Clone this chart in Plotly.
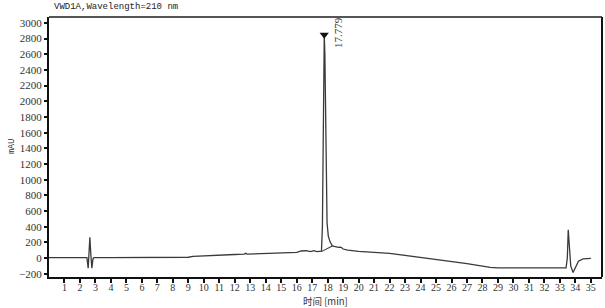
import plotly.graph_objects as go

# ---- data ----
time_min = [0, 1, 2, 2.45, 2.53, 2.58, 2.64, 2.70, 2.77, 2.84, 2.9, 4, 6, 8, 9.0, 9.3, 9.8,
            11, 12, 12.6, 12.7, 12.8, 14, 15.5, 15.8, 16.0, 16.3, 16.6, 16.9, 17.1, 17.3,
            17.5, 17.6, 17.66, 17.70, 17.74, 17.78, 17.82, 17.86, 17.90, 17.96, 18.04,
            18.15, 18.3, 18.5, 18.7, 18.85, 19.0, 19.3, 19.8, 20, 22, 24, 26, 27, 28.5,
            29, 33.4, 33.48, 33.54, 33.62, 33.7, 33.85, 34.0, 34.2, 34.5, 35]
signal_mau = [5, 5, 6, 6, -130, 50, 265, 50, -130, -10, 5, 5, 6, 8, 10, 22, 28,
              38, 45, 50, 60, 50, 60, 70, 78, 72, 90, 95, 82, 95, 82,
              92, 88, 400, 1500, 2500, 2850, 2600, 1800, 900, 450, 280,
              210, 155, 145, 135, 140, 115, 100, 88, 85, 60, 10, -40, -70, -120,
              -125, -125, 0, 360, 100, -100, -185, -120, -40, -10, -5]

baseline_time = [17.62, 18.3]
baseline_mau = [85, 155]

peak_rt = 17.779
peak_label = "17.779"

y_ticks = list(range(-200, 3001, 200))
x_ticks = list(range(1, 36))

title_text = "VWD1A,Wavelength=210 nm"
x_title = "时间 [min]"
y_title = "mAU"

line_color = "#3a3a3a"
serif = "Liberation Serif, Times New Roman, serif"

fig = go.Figure()
fig.add_trace(go.Scatter(x=time_min, y=signal_mau, mode="lines",
                         line=dict(color=line_color, width=1.3), hoverinfo="skip"))
fig.add_trace(go.Scatter(x=baseline_time, y=baseline_mau, mode="lines",
                         line=dict(color=line_color, width=1.1), hoverinfo="skip"))

apex = max(signal_mau)
fig.add_trace(go.Scatter(x=[peak_rt], y=[apex], mode="markers",
                         marker=dict(symbol="triangle-down", size=8, color="#111"),
                         hoverinfo="skip"))

fig.add_annotation(x=peak_rt, y=apex, xref="x", yref="y", text=peak_label,
                   textangle=-90, showarrow=False, xanchor="center", yanchor="middle",
                   xshift=13, yshift=2,
                   font=dict(family=serif, size=11, color="#333"))

fig.add_annotation(x=0, y=1, xref="paper", yref="paper", text=title_text,
                   showarrow=False, xanchor="left", yanchor="bottom",
                   xshift=3, yshift=3,
                   font=dict(family="Liberation Mono", size=9, color="#222"))

# axis titles as annotations
fig.add_annotation(x=0.5, y=0, xref="paper", yref="paper", text=x_title,
                   showarrow=False, xanchor="center", yanchor="middle", yshift=-24,
                   borderpad=0,
                   font=dict(family="Noto Sans CJK SC", size=9.5, color="#333"))
fig.add_annotation(x=0, y=0.5, xref="paper", yref="paper", text=y_title,
                   showarrow=False, xanchor="center", yanchor="middle", xshift=-37,
                   textangle=-90,
                   font=dict(family="Liberation Mono", size=8.5, color="#333"))

# top border (grey)
fig.add_shape(type="line", xref="paper", yref="paper", x0=0, x1=1, y0=1, y1=1,
              line=dict(color="#555", width=2))

fig.update_layout(
    width=605, height=308,
    margin=dict(l=49, r=3, t=17, b=31),
    plot_bgcolor="white", paper_bgcolor="white",
    showlegend=False,
    xaxis=dict(range=[0, 35.72], tickvals=x_ticks, ticks="outside", ticklen=4,
               tickwidth=1.5, tickcolor="#111", showline=True, linewidth=2,
               linecolor="#111", mirror=False, showgrid=False, zeroline=False,
               automargin=False, ticklabelstandoff=-4,
               tickfont=dict(family=serif, size=10, color="#333")),
    yaxis=dict(range=[-242, 3076], tickvals=y_ticks, ticks="outside", ticklen=3,
               tickwidth=1.5, tickcolor="#111", showline=True, linewidth=2,
               linecolor="#111", mirror=False, showgrid=False, zeroline=False,
               ticklabelstandoff=0, automargin=False,
               tickfont=dict(family=serif, size=11, color="#333")),
)

# right border (black)
fig.add_shape(type="line", xref="paper", yref="paper", x0=1, x1=1, y0=0, y1=1,
              line=dict(color="#111", width=2))

fig.write_html("out.html")
